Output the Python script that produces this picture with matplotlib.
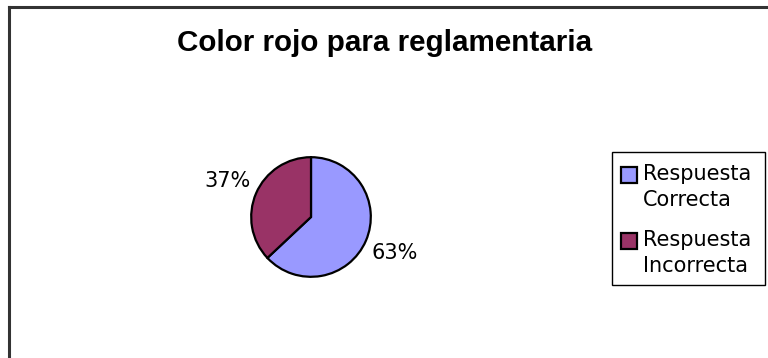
import matplotlib
matplotlib.use("Agg")
import matplotlib.pyplot as plt
from matplotlib.patches import Rectangle

title = "Color rojo para reglamentaria"
categories = ["Respuesta\nCorrecta", "Respuesta\nIncorrecta"]
values = [63, 37]
colors = ["#9999FF", "#993366"]

W, H = 768, 358
fig = plt.figure(figsize=(W / 100, H / 100), dpi=100)
fig.patch.set_facecolor("white")


def fx(px):
    return px / W


def fy(py):
    return 1 - py / H


# outer frame (top + left only visible)
fig.add_artist(plt.Line2D([fx(9), 1.0], [fy(7), fy(7)], color="#333333", lw=2.2,
                          transform=fig.transFigure))
fig.add_artist(plt.Line2D([fx(9), fx(9)], [0, fy(7)], color="#333333", lw=2.2,
                          transform=fig.transFigure))

fig.text(fx(384.5), fy(51), title, ha="center", va="baseline", fontsize=21.3,
         fontweight="bold", family="Liberation Sans")

cx, cy, r = 311, 217, 61
ax = fig.add_axes([fx(cx - r), fy(cy + r), 2 * r / W, 2 * r / H])
wedges, texts, autotexts = ax.pie(values, colors=colors, startangle=90, counterclock=False,
                                  autopct=lambda p: f"{p:.0f}%", pctdistance=1.1,
                                  wedgeprops=dict(edgecolor="black", linewidth=1.6),
                                  textprops=dict(fontsize=15, family="DejaVu Sans"))
for t in autotexts:
    x, y = t.get_position()
    t.set_ha("left" if x > 0 else "right")
    t.set_va("bottom" if y > 0 else "top")
ax.set_xlim(-1.02, 1.02)
ax.set_ylim(-1.02, 1.02)
ax.set_aspect("equal")
ax.axis("off")

# legend box
fig.add_artist(Rectangle((fx(612), fy(285)), fx(765) - fx(612), fy(152) - fy(285),
                         transform=fig.transFigure, facecolor="white", edgecolor="black",
                         linewidth=1.0))
sq = 16
entry_tops = [174.5, 240.5]
for label, color, yc in zip(categories, colors, entry_tops):
    fig.add_artist(Rectangle((fx(621), fy(yc + sq / 2)), sq / W, sq / H,
                             transform=fig.transFigure, facecolor=color,
                             edgecolor="black", linewidth=1.6))
    fig.text(fx(643), fy(yc - 10.5), label, ha="left", va="top", fontsize=15,
             family="DejaVu Sans", linespacing=1.35)

fig.savefig("out.png", dpi=100, facecolor="white")
